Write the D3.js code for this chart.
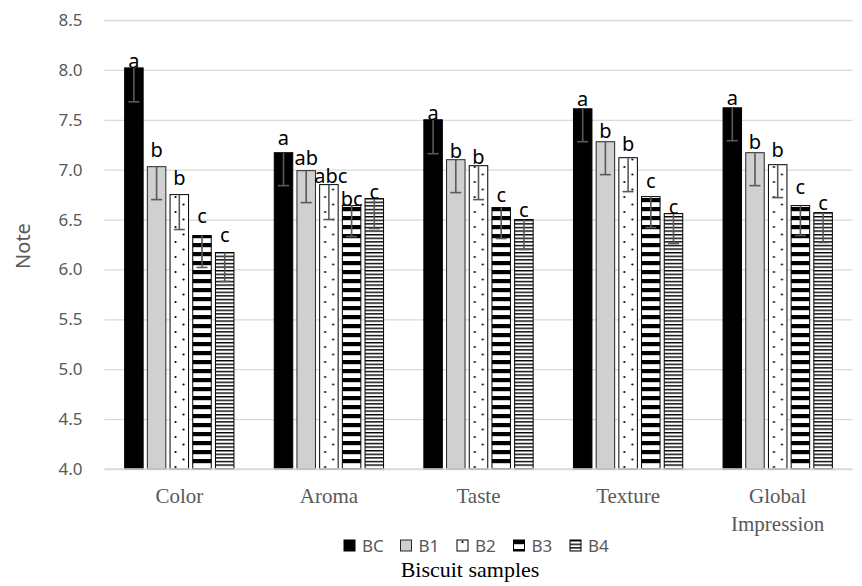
<!DOCTYPE html>
<html>
<head>
<meta charset="utf-8">
<script src="https://cdn.jsdelivr.net/npm/d3@7"></script>
<style>
  html, body { margin: 0; padding: 0; background: #fff; }
  svg { display: block; }
</style>
</head>
<body>
<svg id="chart" width="862" height="586"></svg>
<script>
// ---- data ----
const categories = ["Color", "Aroma", "Taste", "Texture", "Global Impression"];
const series = ["BC", "B1", "B2", "B3", "B4"];
const BC = [8.02, 7.17, 7.50, 7.61, 7.62];
const B1 = [7.03, 6.99, 7.10, 7.28, 7.17];
const B2 = [6.75, 6.85, 7.04, 7.12, 7.05];
const B3 = [6.34, 6.64, 6.62, 6.73, 6.64];
const B4 = [6.17, 6.71, 6.50, 6.56, 6.57];
const errBC = [0.34, 0.33, 0.34, 0.33, 0.33];
const errB1 = [0.33, 0.32, 0.33, 0.33, 0.33];
const errB2 = [0.35, 0.35, 0.34, 0.34, 0.33];
const errB3 = [0.32, 0.31, 0.31, 0.31, 0.30];
const errB4 = [0.29, 0.30, 0.30, 0.30, 0.30];
const letBC = ["a", "a", "a", "a", "a"];
const letB1 = ["b", "ab", "b", "b", "b"];
const letB2 = ["b", "abc", "b", "b", "b"];
const letB3 = ["c", "bc", "c", "c", "c"];
const letB4 = ["c", "c", "c", "c", "c"];
const yTicks = [4.0, 4.5, 5.0, 5.5, 6.0, 6.5, 7.0, 7.5, 8.0, 8.5];
const yTitle = "Note";
const xTitle = "Biscuit samples";

// ---- layout (styling, not data): label gap above bar, per series row ----
const labelGap = [
  [0, 8, 0, 3, 3],
  [10, 6, 2, 4, 4],
  [10, 2, 2, 7, 8],
  [13, 0, 6, 9, 12],
  [10, 0, 3, 0, 3]
];

const values = [BC, B1, B2, B3, B4];
const errors = [errBC, errB1, errB2, errB3, errB4];
const letters = [letBC, letB1, letB2, letB3, letB4];

const svg = d3.select("#chart");
const pL = 104.5, pR = 852.5, pT = 20, pB = 469;

const x0 = d3.scaleBand().domain(categories).range([pL, pR]).paddingInner(0).paddingOuter(0);
const x1 = d3.scaleBand().domain(series).range([-56.75, 56.75]).paddingInner(0.185).paddingOuter(0.0925);
const y = d3.scaleLinear().domain([4.0, 8.5]).range([pB, pT]);

// patterns
const defs = svg.append("defs");
const pDots = defs.append("pattern").attr("id", "pB2").attr("patternUnits", "userSpaceOnUse")
  .attr("width", 16).attr("height", 15);
pDots.append("rect").attr("width", 16).attr("height", 15).attr("fill", "#fff");
pDots.append("circle").attr("cx", 5.5).attr("cy", 2).attr("r", 1.1).attr("fill", "#000");
pDots.append("circle").attr("cx", 13.5).attr("cy", 9.5).attr("r", 1.1).attr("fill", "#000");

const pWide = defs.append("pattern").attr("id", "pB3").attr("patternUnits", "userSpaceOnUse")
  .attr("width", 8).attr("height", 9);
pWide.append("rect").attr("width", 8).attr("height", 9).attr("fill", "#fff");
pWide.append("rect").attr("y", 0).attr("width", 8).attr("height", 4.2).attr("fill", "#000");

const pThin = defs.append("pattern").attr("id", "pB4").attr("patternUnits", "userSpaceOnUse")
  .attr("width", 8).attr("height", 3.6);
pThin.append("rect").attr("width", 8).attr("height", 3.6).attr("fill", "#fff");
pThin.append("rect").attr("y", 0).attr("width", 8).attr("height", 1.4).attr("fill", "#000");

const fills = {BC: "#000", B1: "#d0d0d0", B2: "url(#pB2)", B3: "url(#pB3)", B4: "url(#pB4)"};
const strokes = {BC: "#000", B1: "#262626", B2: "#000", B3: "#000", B4: "#000"};

// y axis + gridlines
const yAxis = svg.append("g").attr("transform", `translate(${pL},0)`)
  .call(d3.axisLeft(y).tickValues(yTicks).tickFormat(d3.format(".1f"))
    .tickSize(-(pR - pL)).tickPadding(22));
yAxis.select(".domain").remove();
yAxis.selectAll(".tick line").attr("stroke", "#d9d9d9").attr("stroke-width", 1.3);
yAxis.selectAll(".tick text").attr("fill", "#595959")
  .style("font-family", "'Noto Sans', sans-serif").style("font-size", "17px");

// bars
const cells = [];
categories.forEach((c, ci) => series.forEach((s, si) => cells.push({
  c, ci, s, si, v: values[si][ci], e: errors[si][ci], l: letters[si][ci], g: labelGap[si][ci]
})));

const plot = svg.append("g");
const bars = plot.selectAll("g.bar").data(cells).join("g").attr("class", "bar")
  .attr("transform", d => `translate(${x0(d.c) + x0.bandwidth() / 2 + x1(d.s)},0)`);

bars.append("rect")
  .attr("x", 0).attr("y", d => y(d.v))
  .attr("width", x1.bandwidth()).attr("height", d => y(4.0) - y(d.v))
  .attr("fill", d => fills[d.s]).attr("stroke", d => strokes[d.s]).attr("stroke-width", 1);

// error bars (minus direction)
const bw = x1.bandwidth();
bars.append("line")
  .attr("x1", bw / 2).attr("x2", bw / 2)
  .attr("y1", d => y(d.v)).attr("y2", d => y(d.v - d.e))
  .attr("stroke", "#595959").attr("stroke-width", 1.6);
bars.append("line")
  .attr("x1", bw / 2 - 5.5).attr("x2", bw / 2 + 5.5)
  .attr("y1", d => y(d.v - d.e)).attr("y2", d => y(d.v - d.e))
  .attr("stroke", "#595959").attr("stroke-width", 1.6);

// letters
bars.append("text")
  .attr("x", d => bw / 2 + (d.l.length > 2 ? 2 : 0)).attr("y", d => y(d.v) - d.g)
  .attr("text-anchor", "middle")
  .style("font-family", "'Noto Sans', sans-serif").style("font-size", "20px")
  .attr("fill", "#000")
  .text(d => d.l);

// x axis
const xAxis = svg.append("g").attr("transform", `translate(0,${pB})`)
  .call(d3.axisBottom(x0).tickSize(0).tickPadding(0));
xAxis.select(".domain").remove();
xAxis.selectAll(".tick text").each(function (d) {
  const t = d3.select(this);
  t.text(null).attr("y", 0).attr("dy", null)
    .attr("fill", "#595959")
    .style("font-family", "'Liberation Serif', 'Times New Roman', serif").style("font-size", "21px");
  const lines = d.length > 10 ? d.split(" ") : [d];
  lines.forEach((ln, i) => t.append("tspan").attr("x", 0).attr("y", 34 + i * 28).text(ln));
});
svg.append("line").attr("x1", pL).attr("x2", pR).attr("y1", pB).attr("y2", pB)
  .attr("stroke", "#d9d9d9").attr("stroke-width", 1.3);

// y title
svg.append("text")
  .attr("transform", `translate(30,246) rotate(-90)`)
  .attr("text-anchor", "middle")
  .attr("fill", "#595959")
  .style("font-family", "'Noto Sans', sans-serif").style("font-size", "20px")
  .text(yTitle);

// legend
const legend = svg.append("g").attr("transform", "translate(344,540)");
const li = legend.selectAll("g").data(series).join("g")
  .attr("transform", (d, i) => `translate(${i * 56.5},0)`);
li.append("rect")
  .attr("width", 11).attr("height", 11)
  .attr("fill", d => fills[d]).attr("stroke", d => strokes[d]).attr("stroke-width", 1);
li.append("text").attr("x", 18).attr("y", 11.5)
  .attr("fill", "#595959")
  .style("font-family", "'Noto Sans', sans-serif").style("font-size", "17px")
  .text(d => d);

// x title
svg.append("text")
  .attr("x", 470).attr("y", 577)
  .attr("text-anchor", "middle")
  .attr("fill", "#000")
  .style("font-family", "'Liberation Serif', 'Times New Roman', serif").style("font-size", "22px")
  .text(xTitle);
</script>
</body>
</html>
